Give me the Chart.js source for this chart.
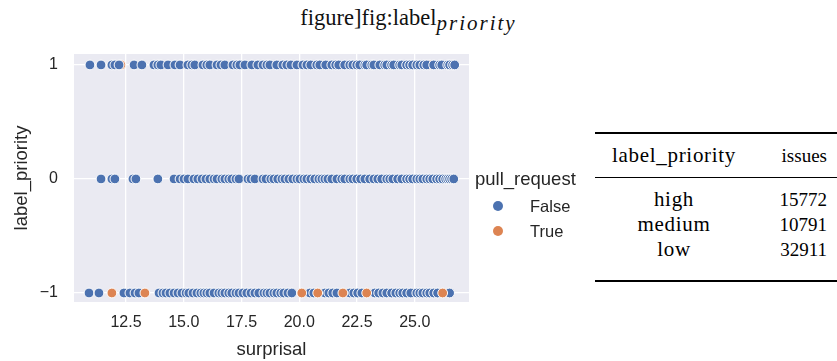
<!DOCTYPE html>
<html>
<head>
<meta charset="utf-8">
<script src="https://cdn.jsdelivr.net/npm/chart.js@4.4.0/dist/chart.umd.min.js"></script>
<style>
  html, body { margin: 0; padding: 0; background: #fff; }
  body { width: 837px; height: 361px; position: relative; overflow: hidden; }
  #caption { position: absolute; left: -10px; top: 4px; width: 837px; text-align: center;
    font-family: "Liberation Serif", serif; font-size: 22.5px; line-height: 28px; color: #111; white-space: nowrap; }
  #caption i { font-size: 21px; letter-spacing: 2px; position: relative; top: 5px; }
  #plotBox { position: absolute; left: 0; top: 40px; width: 480px; height: 321px; }
  #legend { position: absolute; left: 475px; top: 167px; font-family: "Liberation Sans", Arial, sans-serif; color: #262626; }
  #legend .title { font-size: 18.5px; line-height: 24px; white-space: nowrap; margin-bottom: 3px; }
  #legend .item { position: relative; height: 25px; font-size: 16.5px; line-height: 25px; }
  #legend .dot { position: absolute; left: 18px; top: 7px; width: 10px; height: 10px; border-radius: 50%; }
  #legend .lbl { position: absolute; left: 55px; top: 0; }
  #tbl { position: absolute; left: 595px; top: 132px; width: 242px; }
  #tbl table { border-collapse: collapse; width: 242px; font-family: "Liberation Serif", serif; font-size: 19px; color: #000;
    border-top: 2px solid #000; border-bottom: 2px solid #000; }
  #tbl th, #tbl td { padding: 0; font-weight: normal; line-height: 25px; }
  #tbl th { line-height: 43px; border-bottom: 1px solid #000; }
  #tbl .c1 { width: 158px; text-align: center; font-size: 21px; letter-spacing: 0.7px; }
  #tbl .c2 { text-align: right; padding-right: 10px; }
  #tbl tr.first td { padding-top: 9px; }
  #tbl tr.last td { padding-bottom: 18px; }
</style>
</head>
<body>
<div id="caption">figure]fig:label<i>priority</i></div>
<div id="plotBox"><canvas id="chart" width="480" height="321"></canvas></div>
<div id="legend"></div>
<div id="tbl"></div>
<script>
// surprisal values per label_priority row (1 = high, 0 = medium, -1 = low)
const highFalse = [10.94, 11.42, 11.89, 12.02, 12.20, 12.85, 13.19, 13.71, 13.88, 14.01, 14.32, 14.62, 14.84, 15.18, 15.35,
  15.48, 15.83, 16.00, 16.13, 16.44, 16.61, 16.78, 17.13, 17.30, 17.43, 17.65, 17.95, 18.21, 18.43, 18.60, 18.73, 19.03,
  19.29, 19.46, 19.64, 19.90, 20.16, 20.33, 20.50, 20.76, 20.89, 21.15, 21.41, 21.58, 21.71, 21.97, 22.19, 22.32, 22.49,
  22.62, 22.84, 22.92, 23.14, 23.23, 23.49, 23.70, 23.79, 24.00, 24.09, 24.35, 24.44, 24.65, 24.78, 24.91, 25.09, 25.22,
  25.39, 25.52, 25.82, 26.08, 26.17, 26.43, 26.51, 26.64, 26.73];
const highTrue = [12.28, 25.65];
const mediumFalse = [11.42, 11.89, 12.02, 12.80, 12.93, 13.88, 14.58, 14.84, 15.01, 15.18, 15.44, 15.61, 15.79, 15.96,
  16.13, 16.31, 16.44, 16.65, 16.78, 16.95, 17.08, 17.26, 17.39, 17.78, 17.91, 18.08, 18.43, 18.56, 18.77, 18.90, 19.07,
  19.25, 19.38, 19.55, 19.72, 19.90, 20.03, 20.20, 20.33, 20.50, 20.67, 20.85, 20.98, 21.11, 21.24, 21.41, 21.63, 21.84,
  21.97, 22.19, 22.32, 22.49, 22.66, 22.84, 23.05, 23.23, 23.40, 23.57, 23.79, 23.92, 24.05, 24.26, 24.44, 24.65, 24.78,
  24.91, 25.09, 25.22, 25.35, 25.52, 25.65, 25.78, 25.95, 26.08, 26.21, 26.34, 26.43, 26.51, 26.60, 26.69];
const lowFalse = [10.90, 11.33, 12.41, 12.67, 12.89, 13.06, 13.93, 14.10, 14.23, 14.40, 14.58, 14.75, 14.92, 15.10, 15.22,
  15.40, 15.57, 15.74, 15.87, 16.00, 16.13, 16.31, 16.52, 16.65, 16.78, 16.95, 17.08, 17.26, 17.39, 17.56, 17.73, 17.91,
  18.08, 18.25, 18.47, 18.60, 18.73, 18.90, 19.03, 19.20, 19.33, 19.51, 19.68, 20.46, 20.63, 21.11, 21.28, 21.45, 21.63,
  22.19, 22.36, 22.53, 22.71, 23.27, 23.44, 23.62, 23.79, 24.00, 24.18, 24.35, 24.48, 24.65, 24.83, 25.09, 25.22, 25.35,
  25.52, 25.65, 25.82, 25.99, 26.51];
const lowTrue = [11.89, 13.32, 20.11, 20.80, 21.89, 22.92, 26.21];

const xTickValues = [12.5, 15, 17.5, 20, 22.5, 25];
const xTickLabels = ['12.5', '15.0', '17.5', '20.0', '22.5', '25.0'];
const yTickValues = [-1, 0, 1];
const yTickLabels = ['\u22121', '0', '1'];

const legendLabels = ['False', 'True'];
const legendColors = ['#4C72B0', '#DD8452'];

const tablePriority = ['high', 'medium', 'low'];
const tableIssues = [15772, 10791, 32911];

const toPoints = (xs, y) => xs.map(x => ({ x: x, y: y }));

const plotBackground = {
    id: 'plotBackground',
    beforeDraw(chart) {
        const { ctx, chartArea } = chart;
        ctx.save();
        ctx.fillStyle = '#EAEAF2';
        ctx.fillRect(chartArea.left, chartArea.top, chartArea.width, chartArea.height);
        ctx.restore();
    }
};

// keep the plot area where layout.padding puts it
function noLabelPadding(s) {
    s.paddingTop = 0;
    s.paddingBottom = 0;
    s.paddingLeft = 0;
    s.paddingRight = 0;
}

Chart.defaults.font.family = '"Liberation Sans", Arial, sans-serif';
Chart.defaults.color = '#262626';

const pointStyle = { pointRadius: 4.9, pointHoverRadius: 4.9, borderWidth: 1, borderColor: '#ffffff' };

new Chart(document.getElementById('chart'), {
    type: 'scatter',
    data: {
        datasets: [
            // True points hidden behind the False ones on the top row
            Object.assign({ label: 'True', data: toPoints(highTrue, 1), backgroundColor: legendColors[1], order: 2 }, pointStyle),
            Object.assign({ label: 'False',
                data: toPoints(highFalse, 1).concat(toPoints(mediumFalse, 0), toPoints(lowFalse, -1)),
                backgroundColor: legendColors[0], order: 1 }, pointStyle),
            Object.assign({ label: 'True', data: toPoints(lowTrue, -1), backgroundColor: legendColors[1], order: 0 }, pointStyle)
        ]
    },
    options: {
        responsive: false,
        devicePixelRatio: 1,
        animation: false,
        layout: { padding: { top: 14, right: 11, left: 0, bottom: 0 } },
        plugins: { legend: { display: false }, tooltip: { enabled: false } },
        scales: {
            x: {
                type: 'linear',
                min: 10.25,
                max: 27.35,
                afterBuildTicks: s => { s.ticks = xTickValues.map(v => ({ value: v })); },
                afterFit: s => { s.height = 59; noLabelPadding(s); },
                ticks: { callback: (v, i) => xTickLabels[i], font: { size: 16 }, padding: 11, maxRotation: 0 },
                grid: { color: '#ffffff', lineWidth: 1.3, drawTicks: false },
                border: { display: false },
                title: { display: true, text: 'surprisal', font: { size: 18.5 }, padding: { top: 0, bottom: 0 } }
            },
            y: {
                type: 'linear',
                min: -1.079,
                max: 1.096,
                afterBuildTicks: s => { s.ticks = yTickValues.map(v => ({ value: v })); },
                afterFit: s => { s.width = 74; noLabelPadding(s); },
                ticks: { callback: (v, i) => yTickLabels[i], font: { size: 16 }, padding: 16 },
                grid: { color: '#ffffff', lineWidth: 1.3, drawTicks: false },
                border: { display: false },
                title: { display: true, text: 'label_priority', font: { size: 18.5 }, padding: { top: 11, bottom: 0 } }
            }
        }
    },
    plugins: [plotBackground]
});

// legend
const legend = document.getElementById('legend');
let html = '<div class="title">pull_request</div>';
legendLabels.forEach((l, i) => {
    html += '<div class="item"><span class="dot" style="background:' + legendColors[i] + '"></span><span class="lbl">' + l + '</span></div>';
});
legend.innerHTML = html;

// table
let rows = '<table><tr><th class="c1">label_priority</th><th class="c2">issues</th></tr>';
tablePriority.forEach((p, i) => {
    const cls = i === 0 ? 'first' : (i === tablePriority.length - 1 ? 'last' : '');
    rows += '<tr class="' + cls + '"><td class="c1">' + p + '</td><td class="c2">' + tableIssues[i] + '</td></tr>';
});
rows += '</table>';
document.getElementById('tbl').innerHTML = rows;
</script>
</body>
</html>
